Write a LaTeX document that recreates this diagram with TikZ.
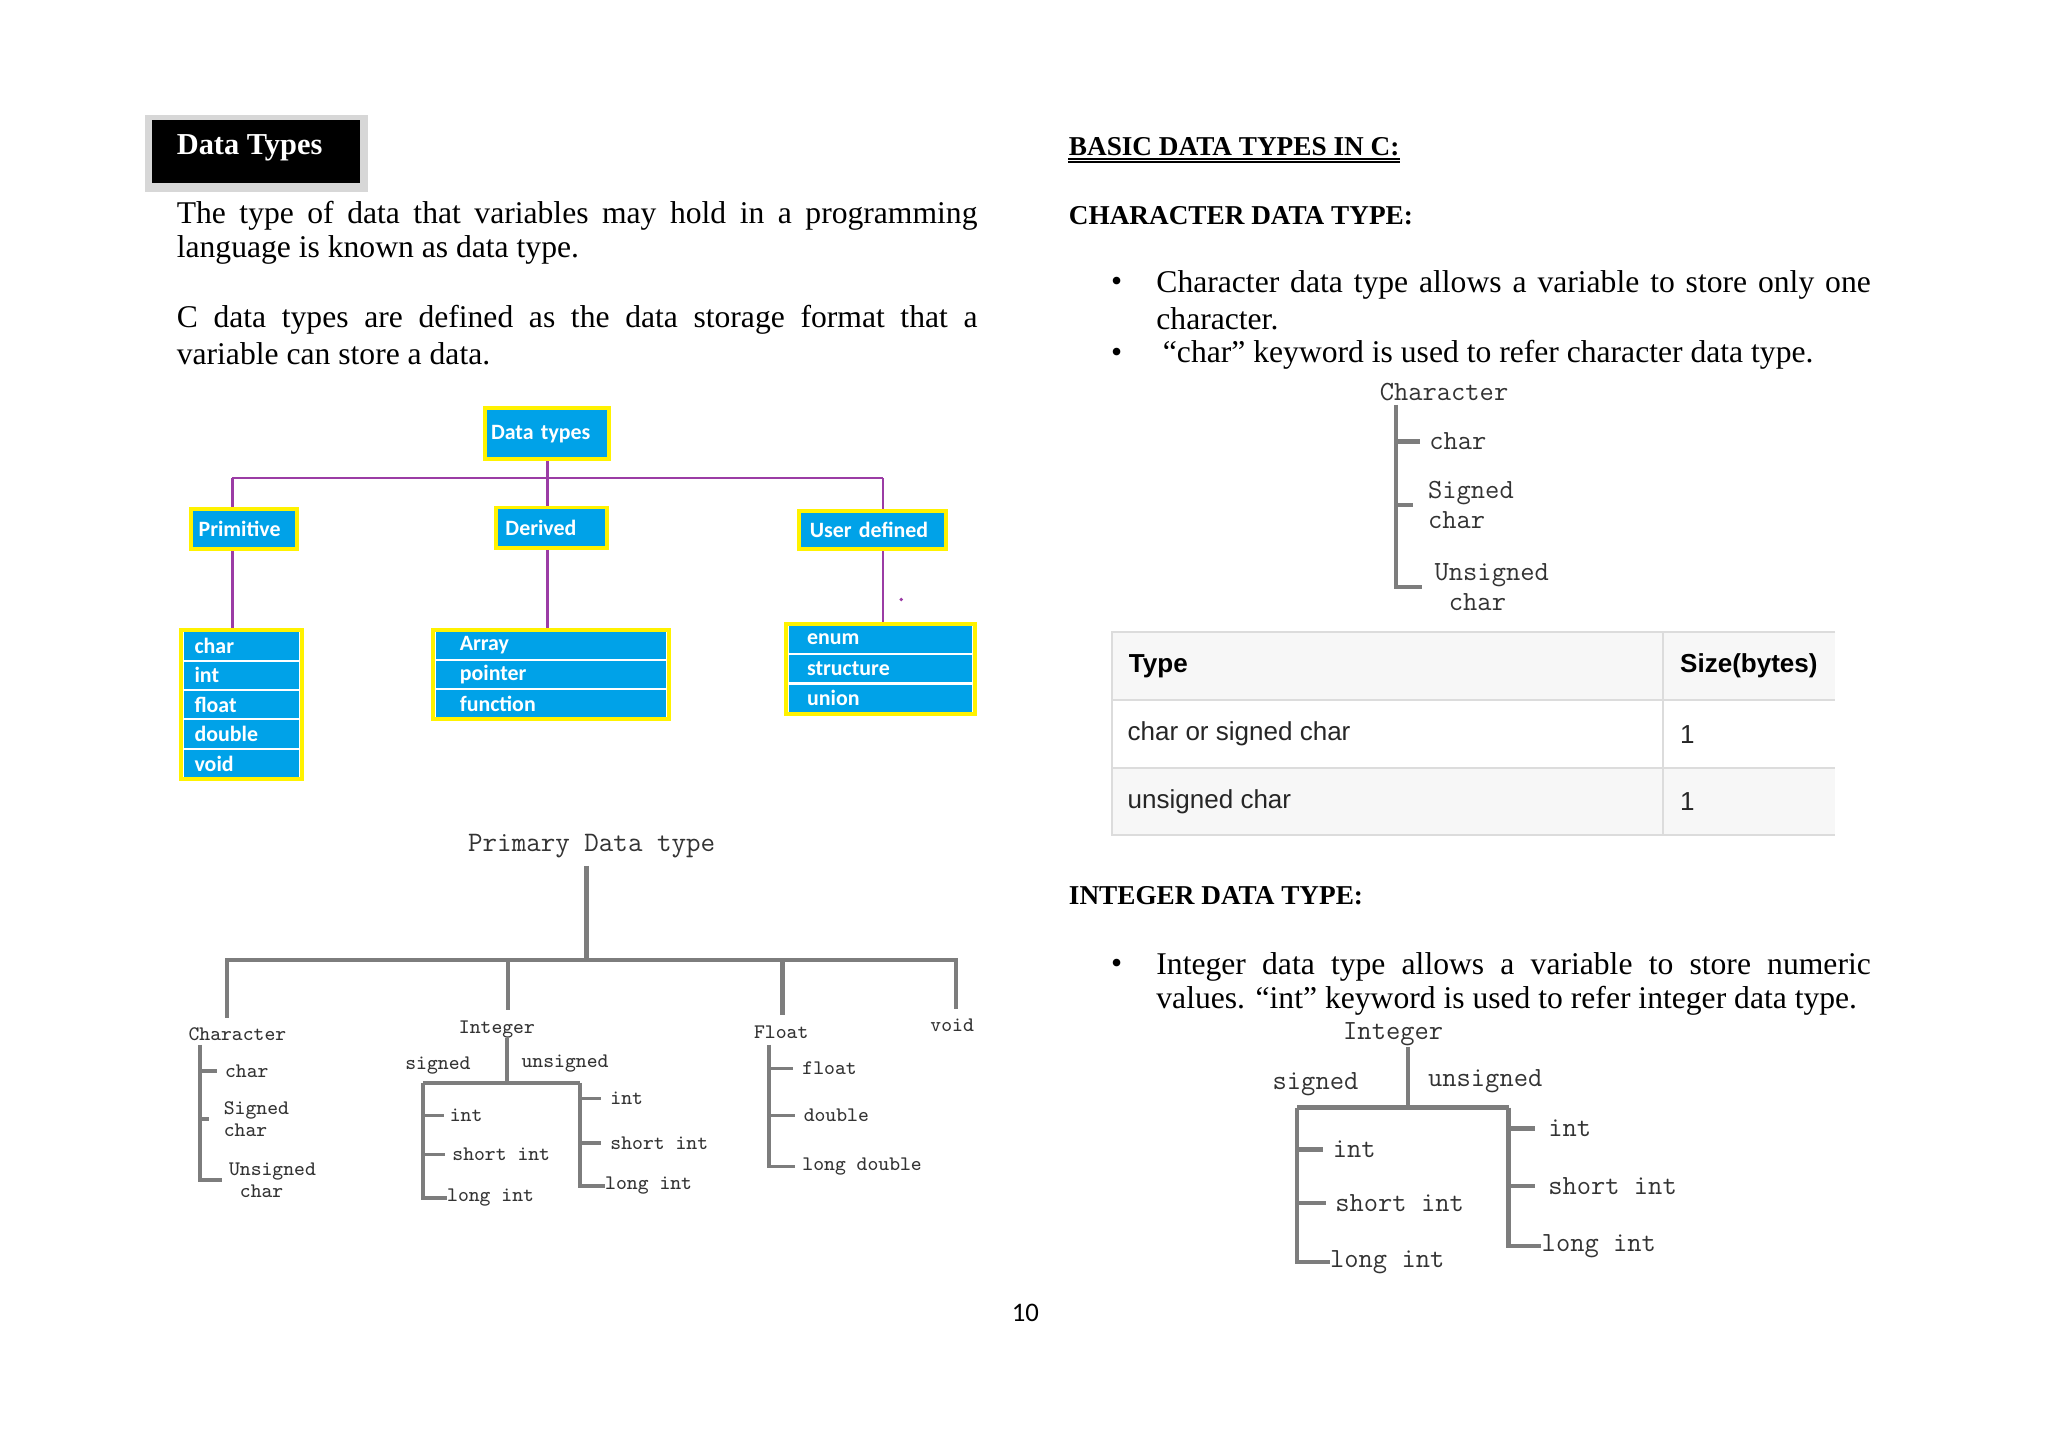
\documentclass[tikz,border=0pt]{standalone}
\usepackage{fontspec}
\setmainfont{Liberation Serif}
\newfontfamily\calfont{Carlito}
\newfontfamily\tabfont{Liberation Sans}
\usetikzlibrary{positioning}

\definecolor{boxblue}{RGB}{0,162,232}
\definecolor{boxyellow}{RGB}{255,242,0}
\definecolor{treepurple}{RGB}{155,60,165}
\definecolor{treegray}{RGB}{125,125,125}
\definecolor{tabline}{RGB}{220,220,220}
\definecolor{tabshade}{RGB}{247,247,247}
\definecolor{shadowgray}{RGB}{215,215,215}

\newcommand{\bodysize}{\fontsize{13}{14}\selectfont}
\newcommand{\boxsize}{\calfont\bfseries\fontsize{9}{10}\selectfont}

\tikzset{
  txt/.style={anchor=west, inner sep=0pt, font=\bodysize},
  heading/.style={anchor=west, inner sep=0pt, font=\bfseries\fontsize{11.2}{13}\selectfont},
  bluebox/.style={rectangle, fill=boxblue, draw=boxyellow, line width=1.6pt, text=white,
    font=\boxsize, align=left, inner ysep=0pt},
  listframe/.style={rectangle, fill=white, draw=boxyellow, line width=1.6pt, inner sep=0pt},
  listrow/.style={rectangle, fill=boxblue, text=white, font=\boxsize, align=left, inner ysep=0pt},
  purp/.style={draw=treepurple, line width=1.1pt},
  branch/.style={draw=treegray, line width=1.8pt},
  thinbranch/.style={draw=treegray, line width=1.5pt},
  smallmono/.style={anchor=west, inner sep=0pt, font=\ttfamily\fontsize{8.5}{9.1}\selectfont, align=left, text=black!80},
  bigmono/.style={anchor=west, inner sep=0pt, font=\ttfamily\fontsize{11.4}{12.35}\selectfont, align=left, text=black!80},
  cell/.style={anchor=west, inner sep=0pt, font=\tabfont\fontsize{10.7}{12}\selectfont, text=black!85},
  cellhead/.style={cell, font=\tabfont\bfseries\fontsize{10.7}{12}\selectfont, text=black},
}

\begin{document}
\begin{tikzpicture}[x=0.537pt, y=-0.537pt]
\useasboundingbox (0,0) rectangle (1568,1109);
\fill[white] (0,0) rectangle (1568,1109);

% left column text
\fill[shadowgray] (111,88) rectangle (282,147);
\fill[black] (116,92) rectangle (276,140);
\node[heading, font=\bfseries\fontsize{12.5}{14}\selectfont, text=white] (title) at (135,113) {Data Types};
\node[txt] (p1a) at (135,165) {\makebox[329.2pt][s]{The type of data that variables may hold in a programming}};
\node[txt] (p1b) at (135,191) {language is known as data type.};
\node[txt] (p2a) at (135,245) {\makebox[329.2pt][s]{C data types are defined as the data storage format that a}};
\node[txt] (p2b) at (135,271) {variable can store a data.};

% blue chart
\node[bluebox, minimum height=21pt, text width=46.2pt, inner xsep=2.4pt] (dt) at (419,332) {Data types};
\node[bluebox, minimum height=16.6pt, text width=37.5pt, inner xsep=3pt] (prim) at (187,405) {Primitive};
\node[bluebox, minimum height=16.6pt, text width=37.6pt, inner xsep=4pt] (der) at (422,404) {Derived};
\node[bluebox, minimum height=15.6pt, text width=51.5pt, inner xsep=4.6pt] (user) at (668,406) {User defined};

\node[listframe, minimum width=49.9pt, minimum height=61.2pt] (primlist) at (185,539.5) {};
\foreach \lab/\yy [count=\i] in {char/494.5, int/517, float/539.5, double/562, void/584.5}
  \node[listrow, text width=38.7pt, inner xsep=4.3pt, minimum height=11.3pt] (pr\i) at (185,\yy) {\lab};
\node[listframe, minimum width=97.2pt, minimum height=36.5pt] (derlist) at (422,516.5) {};
\foreach \lab/\yy [count=\i] in {Array/494.2, pointer/516.5, function/538.8}
  \node[listrow, text width=75.1pt, inner xsep=9.7pt, minimum height=10.9pt] (dr\i) at (422,\yy) {\lab};
\node[listframe, minimum width=77.9pt, minimum height=37.1pt] (userlist) at (674,512) {};
\foreach \lab/\yy [count=\i] in {enum/489.3, structure/512, union/534.7}
  \node[listrow, text width=60.2pt, inner xsep=7.5pt, minimum height=11.1pt] (ur\i) at (674,\yy) {\lab};

\coordinate (hl) at (178,366);
\coordinate (hr) at (676,366);
\draw[purp] (hl) -- (hr);
\draw[purp] (dt.south) -- (dt.south |- der.north);
\draw[purp] (hl) -- (hl |- prim.north);
\draw[purp] (hr) -- (hr |- user.north);
\draw[purp] (hl |- prim.south) -- (hl |- primlist.north);
\draw[purp] (dt.south |- der.south) -- (dt.south |- derlist.north);
\draw[purp] (hr |- user.south) -- (hr |- userlist.north);
\fill[treepurple] (690,459) circle (0.8pt);

% primary data type tree
\node[bigmono, anchor=center, font=\ttfamily\fontsize{11.6}{13}\selectfont] (pdt) at (453,648) {Primary Data type};
\coordinate (pj) at (449,735);
\coordinate (b1) at (174,735);
\coordinate (b2) at (389,735);
\coordinate (b3) at (599,735);
\coordinate (b4) at (732,735);
\node[smallmono] (chr) at (144,792) {Character};
\node[smallmono] (intg) at (351,788) {Integer};
\node[smallmono] (flt) at (577,790) {Float};
\node[smallmono] (vd) at (712,785) {void};
\draw[branch, shorten <=3pt] (pj |- pdt.south) -- (pj);
\draw[branch, shorten <=4pt, shorten >=4pt] (b1 |- chr.north) -- (b1) -- (b4) -- (b4 |- vd.north);
\draw[branch, shorten >=4pt] (b2) -- (b2 |- intg.north);
\draw[branch, shorten >=4pt] (b3) -- (b3 |- flt.north);

\coordinate (cs) at (153,800);
\node[smallmono] (c1) at (172,820) {char};
\node[smallmono] (c2) at (171,856.5) {Signed\\char};
\node[smallmono] (c3) at (175,903.5) {Unsigned\\\hphantom{U}char};
\draw[thinbranch] (cs) |- ([xshift=-2.7pt]c3.west);
\draw[thinbranch] (cs |- c1.west) -- ++(13,0);
\draw[thinbranch] (cs |- c2.west) -- ++(7,0);

\node[smallmono] (sg) at (310,816) {signed};
\node[smallmono] (usg) at (399,814) {unsigned};
\coordinate (ij) at (388,829);
\coordinate (il) at (324,829);
\coordinate (ir) at (444,829);
\draw[thinbranch] (ij |- intg.south) -- (ij);
\draw[thinbranch] (il) -- (ir);
\node[smallmono] (i1) at (344,854) {int};
\node[smallmono] (i2) at (346,884) {short int};
\node[smallmono] (i3) at (342,917) {long int};
\draw[thinbranch] (il) |- (i3.west);
\draw[thinbranch] (il |- i1.west) -- ++(16,0);
\draw[thinbranch] (il |- i2.west) -- ++(17,0);
\node[smallmono] (u1) at (467,841) {int};
\node[smallmono] (u2) at (467,875) {short int};
\node[smallmono] (u3) at (463,908) {long int};
\draw[thinbranch] (ir) |- (u3.west);
\draw[thinbranch] (ir |- u1.west) -- ++(16,0);
\draw[thinbranch] (ir |- u2.west) -- ++(16,0);

\coordinate (fs) at (589,800);
\node[smallmono] (f1) at (614,818) {float};
\node[smallmono] (f2) at (615,854) {double};
\node[smallmono] (f3) at (614,893) {long double};
\draw[thinbranch] (fs) |- ([xshift=-2.7pt]f3.west);
\draw[thinbranch] (fs |- f1.west) -- ++(18,0);
\draw[thinbranch] (fs |- f2.west) -- ++(20,0);

% right column
\node[heading] (basic) at (818,112) {BASIC DATA TYPES IN C:};
\draw[line width=0.5pt] ([yshift=-1.2pt]basic.south west) -- ([yshift=-1.2pt]basic.south east);
\draw[line width=0.5pt] ([yshift=-2.5pt]basic.south west) -- ([yshift=-2.5pt]basic.south east);
\node[heading] (chhead) at (818,165) {CHARACTER DATA TYPE:};
\node[txt, anchor=center] (bl1) at (855,218) {\textbullet};
\node[txt] (r1a) at (885,218) {\makebox[293.7pt][s]{Character data type allows a variable to store only one}};
\node[txt] (r1b) at (885,244) {character.};
\node[txt, anchor=center] (bl2) at (855,272) {\textbullet};
\node[txt] (r2) at (890,272) {“char” keyword is used to refer character data type.};

\node[bigmono] (rch) at (1056,300) {Character};
\coordinate (rcs) at (1069,310);
\node[bigmono] (rc1) at (1094,338) {char};
\node[bigmono] (rc2) at (1093,386.5) {Signed\\char};
\node[bigmono] (rc3) at (1098,449.5) {Unsigned\\\hphantom{U}char};
\draw[branch] (rcs) |- ([xshift=-4.8pt]rc3.west);
\draw[branch] (rcs |- rc1.west) -- ++(18,0);
\draw[branch] (rcs |- rc2.west) -- ++(13,0);

% table
\fill[tabshade] (851,484) rectangle (1405,536);
\fill[tabshade] (851,588) rectangle (1405,639);
\draw[tabline, line width=0.8pt] (1405,484) -- (851,484) -- (851,639) -- (1405,639);
\draw[tabline, line width=0.8pt] (851,536) -- (1405,536) (851,588) -- (1405,588) (1273,484) -- (1273,639);
\node[cellhead] (th1) at (864,510) {Type};
\node[cellhead] (th2) at (1286,510) {Size(bytes)};
\node[cell] (tc1) at (863,562) {char or signed char};
\node[cell] (ts1) at (1286,562) {1};
\node[cell] (tc2) at (863,614) {unsigned char};
\node[cell] (ts2) at (1286,614) {1};

\node[heading] (inthead) at (818,686) {INTEGER DATA TYPE:};
\node[txt, anchor=center] (bl3) at (855,740) {\textbullet};
\node[txt] (r3a) at (885,740) {\makebox[293.7pt][s]{Integer data type allows a variable to store numeric}};
\node[txt] (r3b) at (885,766) {values. “int” keyword is used to refer integer data type.};

\node[bigmono] (rint) at (1028,792) {Integer};
\node[bigmono] (rsg) at (974,830) {signed};
\node[bigmono] (rusg) at (1093,828) {unsigned};
\coordinate (rj) at (1078,848);
\coordinate (rl) at (993,848);
\coordinate (rr) at (1155,848);
\draw[branch] (rj |- rint.south) -- (rj);
\draw[branch] (rl) -- (rr);
\node[bigmono] (ri1) at (1020,880) {int};
\node[bigmono] (ri2) at (1022,921) {short int};
\node[bigmono] (ri3) at (1018,966) {long int};
\draw[branch] (rl) |- (ri3.west);
\draw[branch] (rl |- ri1.west) -- ++(20,0);
\draw[branch] (rl |- ri2.west) -- ++(22,0);
\node[bigmono] (ru1) at (1185,864) {int};
\node[bigmono] (ru2) at (1185,908) {short int};
\node[bigmono] (ru3) at (1180,954) {long int};
\draw[branch] (rr) |- (ru3.west);
\draw[branch] (rr |- ru1.west) -- ++(20,0);
\draw[branch] (rr |- ru2.west) -- ++(20,0);

\node[inner sep=0pt, font=\calfont\fontsize{11}{12}\selectfont] (pnum) at (785,1005) {10};
\end{tikzpicture}
\end{document}
